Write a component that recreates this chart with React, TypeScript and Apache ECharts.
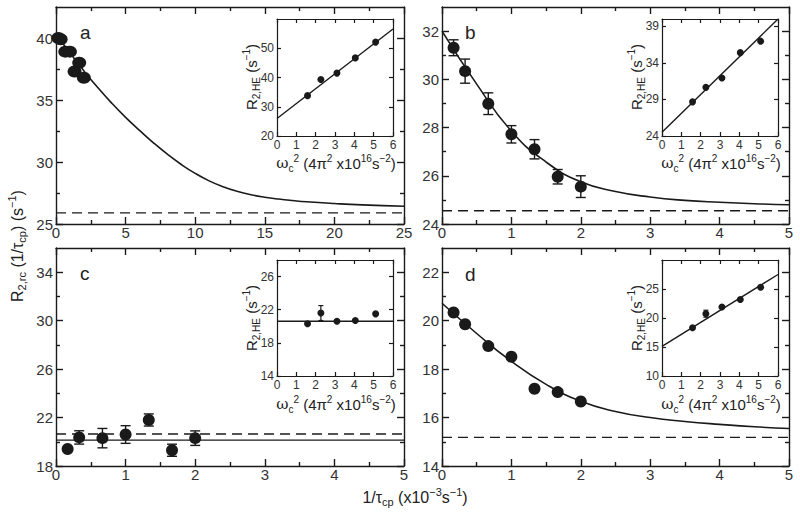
import React, { useEffect, useRef } from 'react';
import * as echarts from 'echarts';

const FONT = '"Liberation Sans", Arial, Helvetica, sans-serif';
const INK = '#1a1a1a';

// ---------- main panels: x = 1/τcp (x10^-3 s^-1) ----------
const tauX = [0.167, 0.333, 0.667, 1.0, 1.333, 1.667, 2.0];

const aY = [40.0, 39.9, 38.9, 38.9, 37.3, 38.0, 36.8];
const aCurveX = [0, 1, 2, 3, 4, 5, 6, 7, 8, 9, 10, 11, 12, 13, 14, 15, 16, 17, 18, 20, 22, 25];
const aCurveY = [40.3, 38.8, 37.35, 36.0, 34.75, 33.6, 32.55, 31.55, 30.63, 29.8, 29.08, 28.48, 28.01, 27.64, 27.36, 27.16, 27.01, 26.89, 26.79, 26.65, 26.54, 26.43];
const aDash = 25.9;

const bY = [31.31, 30.34, 28.99, 27.72, 27.1, 25.96, 25.55];
const bErr = [0.33, 0.5, 0.45, 0.36, 0.4, 0.3, 0.45];
const bCurveX = [0, 0.5, 1, 1.5, 2, 2.5, 3, 3.5, 4, 4.5, 5];
const bCurveY = [32.0, 29.8, 27.85, 26.57, 25.75, 25.35, 25.12, 24.98, 24.9, 24.84, 24.8];
const bDash = 24.55;

const cY = [19.4, 20.36, 20.3, 20.6, 21.8, 19.3, 20.3];
const cErr = [0.15, 0.55, 0.8, 0.73, 0.5, 0.5, 0.6];
const cSolid = 20.14;
const cDash = 20.64;

const dY = [20.34, 19.85, 18.95, 18.51, 17.19, 17.05, 16.66];
const dCurveX = [0, 0.5, 1, 1.5, 2, 2.5, 3, 3.5, 4, 4.5, 5];
const dCurveY = [20.72, 19.47, 18.32, 17.37, 16.67, 16.25, 16.0, 15.84, 15.72, 15.62, 15.55];
const dDash = 15.18;

// ---------- insets: x = ωc² (4π² x10^16 s^-2) ----------
const omegaX = [1.58, 2.27, 3.1, 4.05, 5.1];
const lineX = [0, 6];

const insAY = [33.8, 39.3, 41.5, 46.7, 52.1];
const insALine = [26.0, 56.6];
const insBY = [28.67, 30.65, 31.93, 35.4, 36.97];
const insBLine = [24.5, 40.0];
const insCY = [20.3, 21.6, 20.6, 20.7, 21.5];
const insCErr = [0, 0.9, 0, 0, 0];
const insCLine = [20.6, 20.6];
const insDY = [18.33, 20.74, 21.9, 23.2, 25.3];
const insDErr = [0, 0.6, 0, 0, 0];
const insDLine = [15.1, 27.5];

// ---------- tick values ----------
const aXMajor = [0, 5, 10, 15, 20, 25];
const aXMinor = [2.5, 7.5, 12.5, 17.5, 22.5];
const aYMajor = [25, 30, 35, 40];
const aYMinor = [27.5, 32.5, 37.5];
const fiveMajor = [0, 1, 2, 3, 4, 5];
const fiveMinor = [0.5, 1.5, 2.5, 3.5, 4.5];
const bYMajor = [24, 26, 28, 30, 32];
const bYMinor = [25, 27, 29, 31];
const cYMajor = [18, 22, 26, 30, 34];
const cYMinor = [20, 24, 28, 32];
const dYMajor = [14, 16, 18, 20, 22];
const dYMinor = [15, 17, 19, 21];
const insXMajor = [0, 1, 2, 3, 4, 5, 6];
const insAYTicks = [20, 30, 40, 50];
const insBYTicks = [24, 29, 34, 39];
const insCYTicks = [14, 18, 22, 26];
const insDYTicks = [10, 15, 20, 25];

type Panel = {
  grid: { left: number; top: number; width: number; height: number };
  x: number[];
  y: number[];
  xMaj: number[];
  xMin: number[];
  yMaj: number[];
  yMin: number[];
  inset: boolean;
};

const panels: Panel[] = [
  { grid: { left: 56, top: 7, width: 348, height: 217 }, x: [0, 25], y: [25, 42.5], xMaj: aXMajor, xMin: aXMinor, yMaj: aYMajor, yMin: aYMinor, inset: false },
  { grid: { left: 442, top: 7, width: 347, height: 217 }, x: [0, 5], y: [24, 33], xMaj: fiveMajor, xMin: fiveMinor, yMaj: bYMajor, yMin: bYMinor, inset: false },
  { grid: { left: 56, top: 248, width: 348, height: 218 }, x: [0, 5], y: [18, 36], xMaj: fiveMajor, xMin: fiveMinor, yMaj: cYMajor, yMin: cYMinor, inset: false },
  { grid: { left: 442, top: 248, width: 347, height: 218 }, x: [0, 5], y: [14, 23], xMaj: fiveMajor, xMin: fiveMinor, yMaj: dYMajor, yMin: dYMinor, inset: false },
  { grid: { left: 277, top: 19, width: 116, height: 117 }, x: [0, 6], y: [20, 60], xMaj: insXMajor, xMin: [], yMaj: insAYTicks, yMin: [], inset: true },
  { grid: { left: 662, top: 19, width: 116, height: 117 }, x: [0, 6], y: [24, 40], xMaj: insXMajor, xMin: [], yMaj: insBYTicks, yMin: [], inset: true },
  { grid: { left: 277, top: 260, width: 116, height: 116 }, x: [0, 6], y: [14, 28], xMaj: insXMajor, xMin: [], yMaj: insCYTicks, yMin: [], inset: true },
  { grid: { left: 662, top: 260, width: 116, height: 116 }, x: [0, 6], y: [10, 30], xMaj: insXMajor, xMin: [], yMaj: insDYTicks, yMin: [], inset: true },
];

function buildOption() {
  const xAxes: any[] = [];
  const yAxes: any[] = [];
  const idx: { xi: number; yi: number }[] = [];

  panels.forEach((p, g) => {
    const ls = { color: INK, width: p.inset ? 1.2 : 1.4 };
    const majLen = p.inset ? 4 : 7;
    const minLen = 4;
    const fs = p.inset ? 12 : 15;
    const lab = { fontSize: fs, fontFamily: FONT, color: '#333' };
    const base = (mm: number[]) => ({ type: 'value', gridIndex: g, min: mm[0], max: mm[1], splitLine: { show: false } });

    const xi = xAxes.length;
    xAxes.push({ ...base(p.x), position: 'bottom', axisLine: { show: true, onZero: false, lineStyle: ls },
      axisTick: { show: true, inside: true, length: majLen, customValues: p.xMaj, lineStyle: ls },
      axisLabel: { show: true, customValues: p.xMaj, margin: p.inset ? 3 : 1, ...lab } });
    xAxes.push({ ...base(p.x), position: 'top', axisLine: { show: true, onZero: false, lineStyle: ls },
      axisTick: { show: true, inside: true, length: majLen, customValues: p.xMaj, lineStyle: ls },
      axisLabel: { show: false } });
    if (p.xMin.length) {
      ['bottom', 'top'].forEach((pos) => xAxes.push({ ...base(p.x), position: pos, axisLine: { show: false, onZero: false },
        axisTick: { show: true, inside: true, length: minLen, customValues: p.xMin, lineStyle: ls }, axisLabel: { show: false } }));
    }

    const yi = yAxes.length;
    yAxes.push({ ...base(p.y), position: 'left', axisLine: { show: true, onZero: false, lineStyle: ls },
      axisTick: { show: true, inside: true, length: majLen, customValues: p.yMaj, lineStyle: ls },
      axisLabel: { show: true, customValues: p.yMaj, margin: 3, ...lab } });
    yAxes.push({ ...base(p.y), position: 'right', axisLine: { show: true, onZero: false, lineStyle: ls },
      axisTick: { show: true, inside: true, length: majLen, customValues: p.yMaj, lineStyle: ls },
      axisLabel: { show: false } });
    if (p.yMin.length) {
      ['left', 'right'].forEach((pos) => yAxes.push({ ...base(p.y), position: pos, axisLine: { show: false, onZero: false },
        axisTick: { show: true, inside: true, length: minLen, customValues: p.yMin, lineStyle: ls }, axisLabel: { show: false } }));
    }
    idx.push({ xi, yi });
  });

  const series: any[] = [];
  const ax = (g: number) => ({ xAxisIndex: idx[g].xi, yAxisIndex: idx[g].yi });
  const zip = (xs: number[], ys: number[]) => xs.map((x, i) => [x, ys[i]]);

  const curve = (g: number, xs: number[], ys: number[], w = 1.6) => series.push({
    type: 'line', ...ax(g), data: zip(xs, ys), smooth: 0.5, showSymbol: false, symbol: 'none',
    lineStyle: { color: INK, width: w }, z: 2, silent: true,
  });
  const hline = (g: number, xr: number[], yv: number, dashed: boolean) => series.push({
    type: 'line', ...ax(g), data: [[xr[0], yv], [xr[1], yv]], showSymbol: false, symbol: 'none',
    lineStyle: { color: INK, width: 1.4, type: dashed ? [10, 6] : 'solid' }, z: 2, silent: true,
  });
  const dots = (g: number, xs: number[], ys: number[], size: any) => series.push({
    type: 'scatter', ...ax(g), data: zip(xs, ys), symbol: 'circle', symbolSize: size,
    itemStyle: { color: INK, opacity: 1 }, z: 4, silent: true,
  });
  const errs = (g: number, xs: number[], ys: number[], es: number[], cap: number, w: number) => series.push({
    type: 'custom', ...ax(g), data: xs.map((x, i) => [x, ys[i], es[i]]), encode: { x: 0, y: 1 }, z: 3, silent: true,
    renderItem: (_params: any, api: any) => {
      const x = api.value(0), y = api.value(1), e = api.value(2);
      if (!e) return { type: 'group', children: [] };
      const p1 = api.coord([x, y + e]);
      const p2 = api.coord([x, y - e]);
      const st = { stroke: INK, lineWidth: w, fill: 'none' };
      return {
        type: 'group',
        children: [
          { type: 'line', shape: { x1: p1[0], y1: p1[1], x2: p2[0], y2: p2[1] }, style: st },
          { type: 'line', shape: { x1: p1[0] - cap, y1: p1[1], x2: p1[0] + cap, y2: p1[1] }, style: st },
          { type: 'line', shape: { x1: p2[0] - cap, y1: p2[1], x2: p2[0] + cap, y2: p2[1] }, style: st },
        ],
      };
    },
  });

  // panel a
  curve(0, aCurveX, aCurveY);
  hline(0, [0, 25], aDash, true);
  dots(0, tauX, aY, [14, 12]);
  // panel b
  curve(1, bCurveX, bCurveY);
  hline(1, [0, 5], bDash, true);
  errs(1, tauX, bY, bErr, 5, 1.4);
  dots(1, tauX, bY, 12);
  // panel c
  hline(2, [0, 5], cSolid, false);
  hline(2, [0, 5], cDash, true);
  errs(2, tauX, cY, cErr, 5, 1.4);
  dots(2, tauX, cY, 12);
  // panel d
  curve(3, dCurveX, dCurveY);
  hline(3, [0, 5], dDash, true);
  dots(3, tauX, dY, 12);
  // insets
  curve(4, lineX, insALine, 1.4);
  dots(4, omegaX, insAY, 7);
  curve(5, lineX, insBLine, 1.4);
  dots(5, omegaX, insBY, 7);
  curve(6, lineX, insCLine, 1.4);
  errs(6, omegaX, insCY, insCErr, 2.5, 1.2);
  dots(6, omegaX, insCY, 7);
  curve(7, lineX, insDLine, 1.4);
  errs(7, omegaX, insDY, insDErr, 2.5, 1.2);
  dots(7, omegaX, insDY, 7);

  const richFor = (fs: number, sfs: number, lh: number) => ({
    n: { fontSize: fs, fontFamily: FONT, fill: '#222', color: '#222', lineHeight: lh, verticalAlign: 'middle' },
    g: { fontSize: fs, fontFamily: '"DejaVu Serif", "Liberation Serif", serif', fill: '#222', color: '#222', lineHeight: lh, verticalAlign: 'middle' },
    sub: { fontSize: sfs, fontFamily: FONT, fill: '#222', color: '#222', verticalAlign: 'bottom' },
    sup: { fontSize: sfs, fontFamily: FONT, fill: '#222', color: '#222', verticalAlign: 'top' },
  });
  const mainRich = richFor(16, 11, 21);
  const insRich = richFor(15, 10, 20);

  const txt = (text: string, x: number, y: number, rich: any, rot = 0) => ({
    type: 'text', x, y, rotation: rot, silent: true, z: 10,
    style: { text, rich, align: 'center', verticalAlign: 'middle', textAlign: 'center', textVerticalAlign: 'middle', fill: '#222' },
  });
  const letter = (t: string, x: number, y: number) => ({
    type: 'text', x, y, silent: true, z: 10,
    style: { text: t, fontSize: 19, fontFamily: FONT, fill: '#222', align: 'left', verticalAlign: 'middle' },
  });

  const insXName = '{g|ω}{sub|c}{sup|2}{n| (4π}{sup|2}{n| x10}{sup|16}{n|s}{sup|−2}{n|)}';
  const insYName = '{n|R}{sub|2,HE}{n| (s}{sup|−1}{n|)}';

  const graphic: any[] = [
    letter('a', 80, 32),
    letter('b', 465, 32),
    letter('c', 80, 273),
    letter('d', 465, 274),
    txt('{n|R}{sub|2,rc}{n| (1/τ}{sub|cp}{n|) (s}{sup|−1}{n|)}', 17, 246, mainRich, Math.PI / 2),
    txt('{n|1/τ}{sub|cp}{n| (x10}{sup|−3}{n|s}{sup|−1}{n|)}', 415, 497, mainRich),
    txt(insXName, 336, 163, insRich),
    txt(insXName, 721, 163, insRich),
    txt(insXName, 336, 404, insRich),
    txt(insXName, 721, 404, insRich),
    txt(insYName, 251, 77, insRich, Math.PI / 2),
    txt(insYName, 636, 77, insRich, Math.PI / 2),
    txt(insYName, 251, 318, insRich, Math.PI / 2),
    txt(insYName, 636, 318, insRich, Math.PI / 2),
  ];

  return {
    animation: false,
    backgroundColor: '#ffffff',
    grid: panels.map((p) => ({ ...p.grid, containLabel: false, show: false })),
    xAxis: xAxes,
    yAxis: yAxes,
    series,
    graphic,
  };
}

export default function App() {
  const ref = useRef<HTMLDivElement>(null);
  useEffect(() => {
    if (!ref.current) return;
    const chart = echarts.init(ref.current, undefined, { renderer: 'svg' });
    chart.setOption(buildOption() as any);
    return () => chart.dispose();
  }, []);
  return <div ref={ref} style={{ position: 'fixed', left: 0, top: 0, width: 800, height: 523, background: '#fff' }} />;
}
